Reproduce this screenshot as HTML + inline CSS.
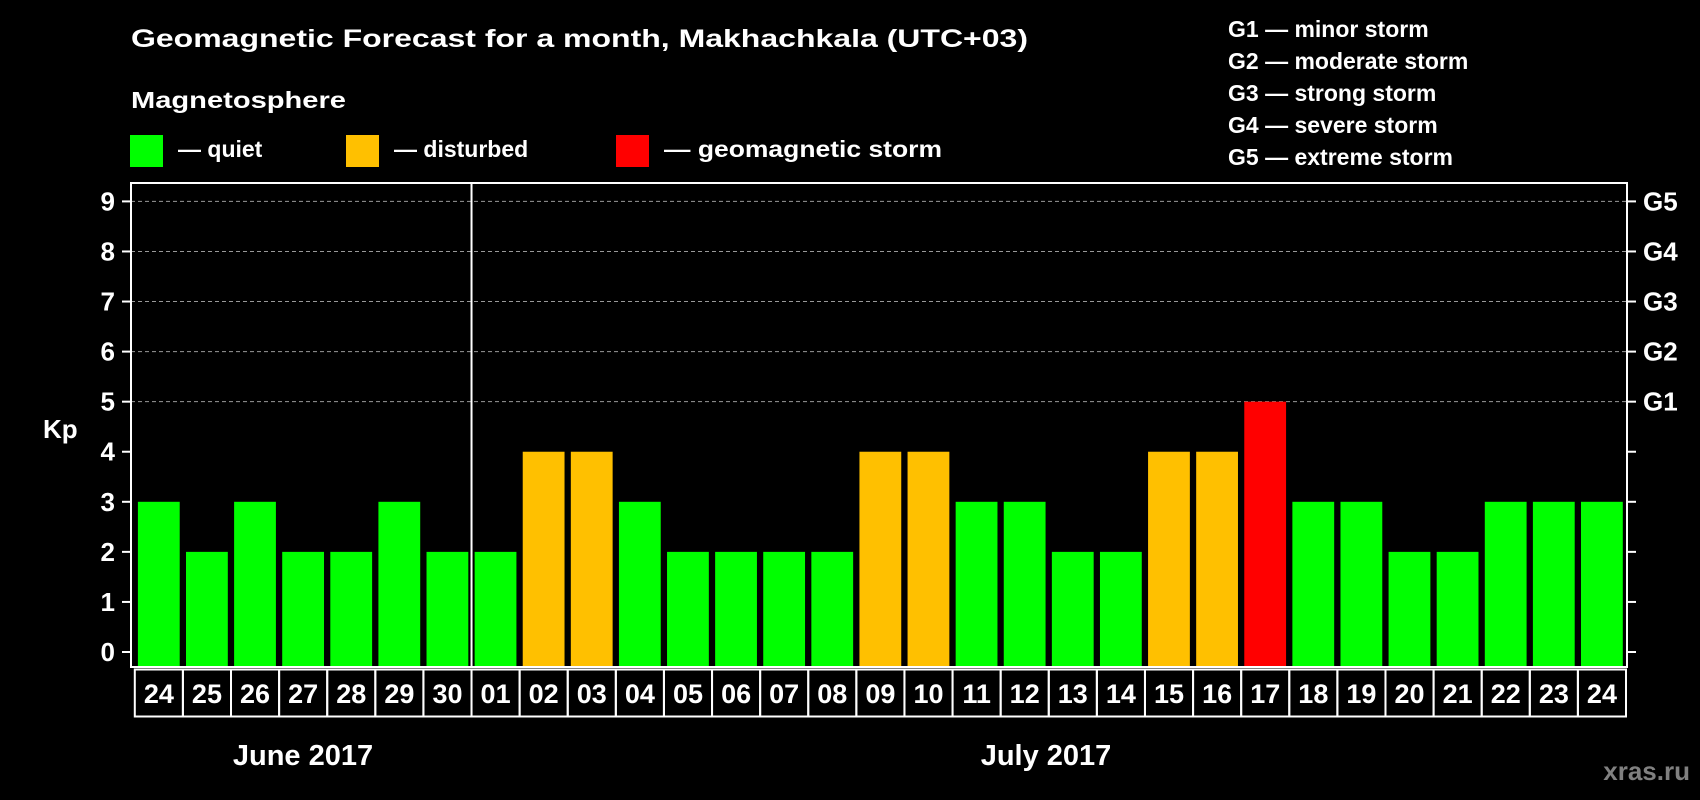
<!DOCTYPE html>
<html><head><meta charset="utf-8"><style>
html,body{margin:0;padding:0;background:#000;}
svg{display:block;font-family:"Liberation Sans",Arial,sans-serif;font-weight:bold;}
</style></head><body>
<svg id="chart" width="1700" height="800" viewBox="0 0 1700 800" xmlns="http://www.w3.org/2000/svg">
<rect x="0" y="0" width="1700" height="800" fill="#000"/>
<text x="131" y="47" fill="#fff" font-size="25" textLength="897" lengthAdjust="spacingAndGlyphs">Geomagnetic Forecast for a month, Makhachkala (UTC+03)</text>
<text x="131" y="108" fill="#fff" font-size="23" textLength="215" lengthAdjust="spacingAndGlyphs">Magnetosphere</text>
<g>
<rect x="130" y="135" width="33" height="32" fill="#00ff00"/>
<text x="178" y="157" fill="#fff" font-size="23">— quiet</text></g>
<g>
<rect x="346" y="135" width="33" height="32" fill="#ffc000"/>
<text x="394" y="157" fill="#fff" font-size="23">— disturbed</text></g>
<g>
<rect x="616" y="135" width="33" height="32" fill="#ff0000"/>
<text x="664" y="157" fill="#fff" font-size="23" textLength="278" lengthAdjust="spacingAndGlyphs">— geomagnetic storm</text></g>
<g font-size="23" fill="#fff">
<text x="1228" y="37">G1 — minor storm</text>
<text x="1228" y="69">G2 — moderate storm</text>
<text x="1228" y="101">G3 — strong storm</text>
<text x="1228" y="133">G4 — severe storm</text>
<text x="1228" y="165">G5 — extreme storm</text>
</g>
<text x="43" y="438" fill="#fff" font-size="26">Kp</text>
<g id="plot"></g>
<text x="303" y="765" fill="#fff" font-size="29" text-anchor="middle">June 2017</text>
<text x="1046" y="765" fill="#fff" font-size="29" text-anchor="middle">July 2017</text>
<text x="1690" y="780" fill="#808080" font-size="26" text-anchor="end">xras.ru</text>
</svg>
<script>
const days = ["24","25","26","27","28","29","30","01","02","03","04","05","06","07","08","09","10","11","12","13","14","15","16","17","18","19","20","21","22","23","24"];
const kpValues = [3,2,3,2,2,3,2,2,4,4,3,2,2,2,2,4,4,3,3,2,2,4,4,5,3,3,2,2,3,3,3];
const yTicks = [0,1,2,3,4,5,6,7,8,9];
const gLabels = ["G1","G2","G3","G4","G5"];
const gLevels = [5,6,7,8,9];
const monthSplit = 7;

const NS = "http://www.w3.org/2000/svg";
const plot = document.getElementById("plot");
const L = 131, R = 1627, T = 183, B = 667;
const slot0 = 134.8, slotW = (R - 1 - slot0) / days.length;
const y0 = 652, yUnit = (652 - 201.4) / 9;
const yScale = v => y0 - v * yUnit;
const xScale = i => slot0 + i * slotW;
function mk(tag, attrs) { const e = document.createElementNS(NS, tag); for (const k in attrs) e.setAttribute(k, attrs[k]); plot.appendChild(e); return e; }
function color(v) { return v >= 5 ? "#ff0000" : (v >= 4 ? "#ffc000" : "#00ff00"); }

gLevels.forEach((lv, i) => {
  const g = mk("line", {x1: L, x2: R, y1: yScale(lv), y2: yScale(lv), stroke: "#999", "stroke-width": 1, "stroke-dasharray": "4 3"});
  
  
  const t = mk("text", {x: 1643, y: yScale(lv) + 9, fill: "#fff", "font-size": 26});
  t.textContent = gLabels[i];
  
  
});
yTicks.forEach(v => {
  const y = yScale(v);
  const tl = mk("line", {x1: 122, x2: L, y1: y, y2: y, stroke: "#fff", "stroke-width": 2});
  
  
  const tr = mk("line", {x1: R, x2: R + 9, y1: y, y2: y, stroke: "#fff", "stroke-width": 2});
  
  
  const t = mk("text", {x: 115, y: y + 9, fill: "#fff", "font-size": 26, "text-anchor": "end"});
  t.textContent = v;
  
  
});
kpValues.forEach((v, i) => {
  const top = yScale(v);
  const b = mk("rect", {x: xScale(i) + 3.1, y: top, width: slotW - 6.3, height: B - 1 - top, fill: color(v)});
  
  
});
const frame = mk("rect", {x: L, y: T, width: R - L, height: B - T, fill: "none", stroke: "#fff", "stroke-width": 2});


const sep = mk("line", {x1: xScale(monthSplit), x2: xScale(monthSplit), y1: T, y2: B, stroke: "#fff", "stroke-width": 2});


days.forEach((d, i) => {
  const c = mk("rect", {x: xScale(i), y: 669.5, width: slotW, height: 47, fill: "none", stroke: "#fff", "stroke-width": 2});
  
  
  const t = mk("text", {x: xScale(i) + slotW / 2, y: 703, fill: "#fff", "font-size": 27, "text-anchor": "middle"});
  t.textContent = d;
  
  
});
</script>
</body></html>
